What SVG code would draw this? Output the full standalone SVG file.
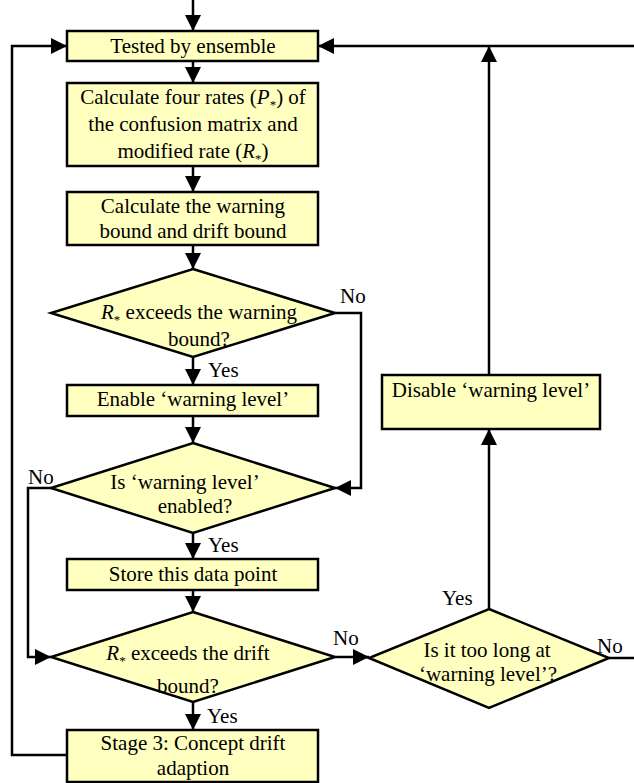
<svg xmlns="http://www.w3.org/2000/svg" width="634" height="783" viewBox="0 0 634 783">
<defs>
<marker id="ah" markerUnits="userSpaceOnUse" markerWidth="16" markerHeight="16" viewBox="0 0 16 16" refX="16" refY="8" orient="auto">
<path d="M0,0 L16,8 L0,16 Z" fill="#000"/>
</marker>
<style>
.n{fill:#FFFFC0;stroke:#000;stroke-width:2.5}
.c{fill:none;stroke:#000;stroke-width:2.5}
.a{marker-end:url(#ah)}
text{font-family:"Liberation Serif","Times New Roman",serif;font-size:21px;fill:#000}
.m{text-anchor:middle}
.i{font-style:italic}
.s{font-size:13px}
</style>
</defs>
<rect width="634" height="783" fill="#fff"/>
<g id="connectors">
<path class="c a" d="M193,0 V31"/>
<path class="c a" d="M193,61 V83"/>
<path class="c a" d="M193,166 V192"/>
<path class="c a" d="M193,245 V269"/>
<path class="c a" d="M193,357 V385"/>
<path class="c a" d="M193,416 V443"/>
<path class="c a" d="M193,533 V559"/>
<path class="c a" d="M193,590 V612"/>
<path class="c a" d="M193,702 V730"/>
<path class="c a" d="M335,313 H361 V488 H335"/>
<path class="c a" d="M51,488 H28 V657 H51"/>
<path class="c a" d="M335,657 H369"/>
<path class="c a" d="M489,609 V429"/>
<path class="c a" d="M489,375 V46"/>
<path class="c a" d="M634,46 H318"/>
<path class="c" d="M609,658 H634"/>
<path class="c a" d="M67,755 H12 V46 H67"/>
</g>
<g id="n1"><rect class="n" x="67" y="31" width="251" height="30"/><text class="m" x="193" y="53">Tested by ensemble</text></g>
<g id="n2"><rect class="n" x="67" y="83" width="251" height="83"/>
<text class="m" x="193" y="104">Calculate four rates (<tspan class="i">P</tspan><tspan class="s" dy="5">*</tspan><tspan dy="-5">) of</tspan></text>
<text class="m" x="193" y="131">the confusion matrix and</text>
<text class="m" x="193" y="158">modified rate (<tspan class="i">R</tspan><tspan class="s" dy="5">*</tspan><tspan dy="-5">)</tspan></text></g>
<g id="n3"><rect class="n" x="67" y="192" width="251" height="53"/>
<text class="m" x="193" y="213">Calculate the warning</text>
<text class="m" x="193" y="238">bound and drift bound</text></g>
<g id="d1"><polygon class="n" points="193,269 335,313 193,357 51,313"/>
<text class="m" x="199" y="319"><tspan class="i">R</tspan><tspan class="s" dy="5">*</tspan><tspan dy="-5"> exceeds the warning</tspan></text>
<text class="m" x="199" y="346">bound?</text></g>
<g id="n4"><rect class="n" x="67" y="385" width="251" height="31"/><text class="m" x="193" y="406">Enable ‘warning level’</text></g>
<g id="d2"><polygon class="n" points="193,443 335,488 193,533 51,488"/>
<text class="m" x="185" y="489">Is ‘warning level’</text>
<text class="m" x="195" y="513">enabled?</text></g>
<g id="n5"><rect class="n" x="67" y="559" width="251" height="31"/><text class="m" x="193" y="581">Store this data point</text></g>
<g id="d3"><polygon class="n" points="193,612 335,657 193,702 51,657"/>
<text class="m" x="188" y="660"><tspan class="i">R</tspan><tspan class="s" dy="5">*</tspan><tspan dy="-5"> exceeds the drift</tspan></text>
<text class="m" x="188" y="693">bound?</text></g>
<g id="n6"><rect class="n" x="67" y="730" width="251" height="52"/>
<text class="m" x="193" y="750">Stage 3: Concept drift</text>
<text class="m" x="193" y="775">adaption</text></g>
<g id="d4"><polygon class="n" points="489,609 609,658 489,708 369,658"/>
<text class="m" x="487" y="657">Is it too long at</text>
<text class="m" x="488" y="681">‘warning level’?</text></g>
<g id="n7"><rect class="n" x="382" y="375" width="218" height="54"/><text class="m" x="491" y="397">Disable ‘warning level’</text></g>
<g id="labels">
<text x="340" y="303">No</text>
<text x="208" y="377">Yes</text>
<text x="28" y="484">No</text>
<text x="208" y="552">Yes</text>
<text x="333" y="645">No</text>
<text x="207" y="723">Yes</text>
<text x="442" y="605">Yes</text>
<text x="597" y="653">No</text>
</g>
</svg>
